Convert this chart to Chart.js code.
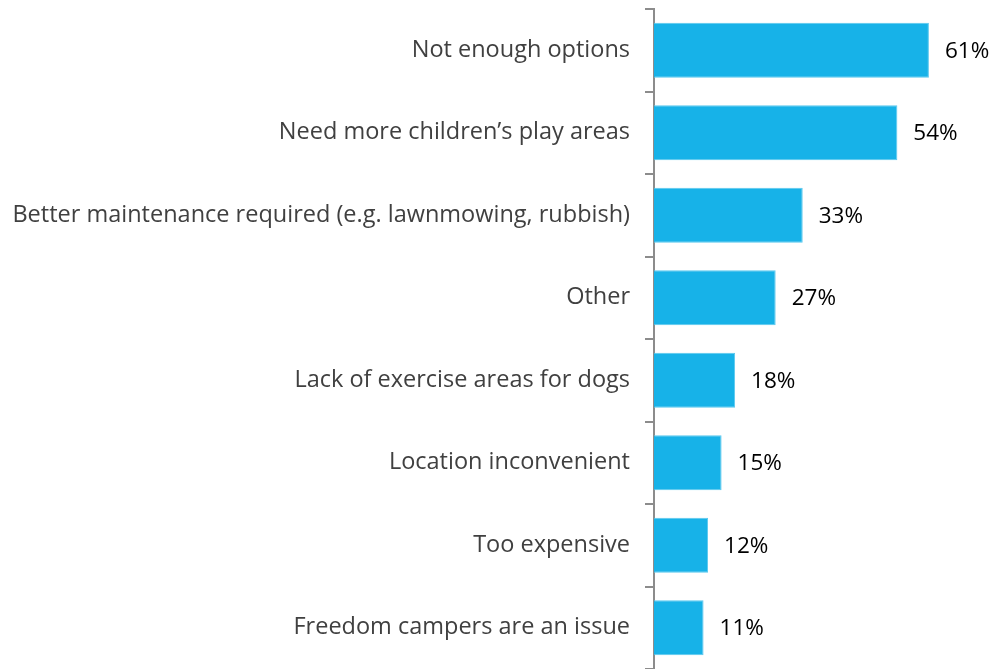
<!DOCTYPE html>
<html lang="en">
<head>
  <meta charset="UTF-8" />
  <title>Reasons</title>
  <script src="https://cdn.jsdelivr.net/npm/chart.js"></script>
  <style>
    html, body { margin: 0; padding: 0; background: #fff; }
    #wrap { width: 1004px; height: 669px; }
  </style>
</head>
<body>
  <div id="wrap"><canvas id="reasonChart"></canvas></div>

  <script>
    const categories = [
      "Not enough options",
      "Need more children’s play areas",
      "Better maintenance required (e.g. lawnmowing, rubbish)",
      "Other",
      "Lack of exercise areas for dogs",
      "Location inconvenient",
      "Too expensive",
      "Freedom campers are an issue"
    ];
    const percents = [61, 54, 33, 27, 18, 15, 12, 11];

    const FONT = "'Open Sans', 'Noto Sans', sans-serif";

    // writes "61%" etc. just right of each bar
    const valueLabels = {
      id: "valueLabels",
      afterDatasetsDraw(chart) {
        const ctx = chart.ctx;
        const meta = chart.getDatasetMeta(0);
        ctx.save();
        ctx.font = "22.5px " + FONT;
        ctx.fillStyle = "#000";
        ctx.textAlign = "left";
        ctx.textBaseline = "middle";
        meta.data.forEach((bar, i) => {
          ctx.fillText(percents[i] + "%", bar.x + 16, bar.y + 1);
        });
        ctx.restore();
      }
    };

    const ctx = document.getElementById("reasonChart").getContext("2d");

    new Chart(ctx, {
      type: "bar",
      data: {
        labels: categories,
        datasets: [{
          data: percents,
          backgroundColor: "#17B2E8",
          borderColor: "#5AC8EE",
          borderWidth: 1,
          categoryPercentage: 1,
          barPercentage: 0.665
        }]
      },
      options: {
        indexAxis: "y",
        responsive: true,
        maintainAspectRatio: false,
        animation: false,
        layout: { padding: { top: 9, right: 12, bottom: 0, left: 0 } },
        plugins: {
          legend: { display: false },
          tooltip: { enabled: false }
        },
        scales: {
          x: {
            display: false,
            min: 0,
            max: 75
          },
          y: {
            afterFit(scale) {
              scale.width = 654;
              // no extra room above/below for the label heights
              scale.paddingTop = 0;
              scale.paddingBottom = 0;
            },
            grid: {
              offset: true,
              drawOnChartArea: false,
              drawTicks: true,
              tickLength: 9,
              color: "#8C8C8C",
              lineWidth: 2
            },
            border: { display: true, color: "#8C8C8C", width: 2 },
            ticks: {
              padding: 15,
              color: "#404040",
              font: { family: FONT, size: 23.5 }
            }
          }
        }
      },
      plugins: [valueLabels]
    });
  </script>
</body>
</html>
